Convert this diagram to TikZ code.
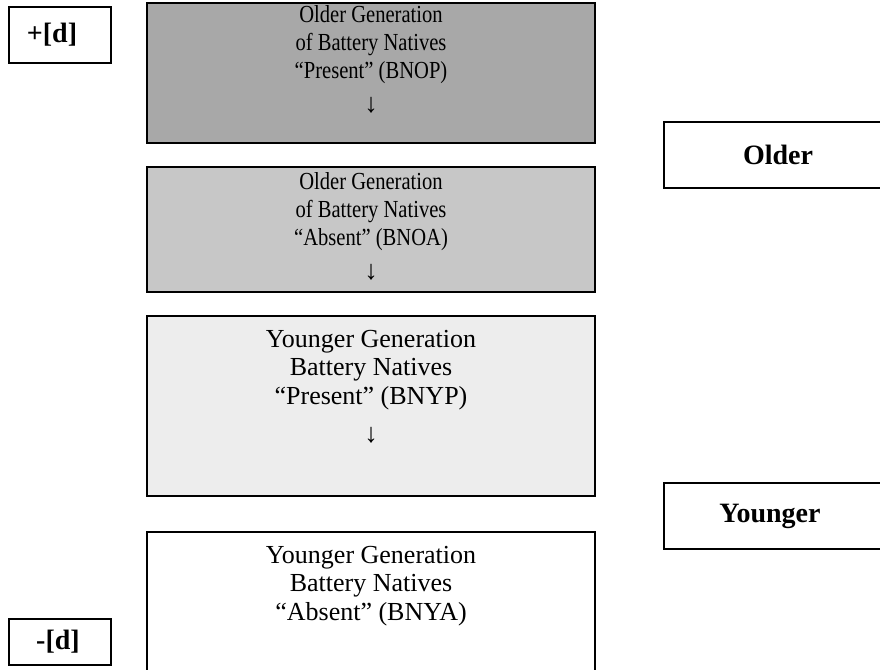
\documentclass[tikz,border=0pt]{standalone}
\usepackage{fontspec}
\setmainfont{Liberation Serif}
\newfontfamily\narrowserif[FakeStretch=0.84]{Liberation Serif}
\definecolor{gA}{gray}{0.66}
\definecolor{gB}{gray}{0.78}
\definecolor{gC}{gray}{0.93}
\begin{document}
\begin{tikzpicture}[x=1pt,y=-1pt,
  box/.style={draw=black, line width=1.8pt, inner sep=0pt, rectangle},
  bigtxt/.style={font=\fontsize{26}{28.5}\selectfont, align=center, inner sep=0pt},
  narrowtxt/.style={font=\narrowserif\fontsize{24.5}{28}\selectfont, align=center, inner sep=0pt},
  arrowtxt/.style={font=\fontsize{27}{28}\selectfont, inner sep=0pt},
  lbl/.style={font=\bfseries\fontsize{28}{30}\selectfont, inner sep=0pt}]
\useasboundingbox (0,0) rectangle (880,669);
\clip (0,0) rectangle (880,669);
\fill[white] (0,0) rectangle (880,669);
% main boxes
\node[box, fill=gA, minimum width=448pt, minimum height=140pt] (b1) at (371,73) {};
\node[box, fill=gB, minimum width=448pt, minimum height=125pt] (b2) at (371,229.5) {};
\node[box, fill=gC, minimum width=448pt, minimum height=180pt] (b3) at (371,406) {};
\node[box, fill=white, minimum width=448pt, minimum height=148pt] (b4) at (371,606) {};
% texts
\node[narrowtxt, anchor=north] (t1) at (371,5) {Older Generation\\of Battery Natives\\“Present” (BNOP)};
\node[arrowtxt] (a1) at (371,105) {↓};
\node[narrowtxt, anchor=north] (t2) at (371,172) {Older Generation\\of Battery Natives\\“Absent” (BNOA)};
\node[arrowtxt] (a2) at (371,272) {↓};
\node[bigtxt, anchor=north] (t3) at (371,330) {Younger Generation\\Battery Natives\\“Present” (BNYP)};
\node[arrowtxt] (a3) at (371,435) {↓};
\node[bigtxt, anchor=north] (t4) at (371,546) {Younger Generation\\Battery Natives\\“Absent” (BNYA)};
% side labels
\node[box, minimum width=102pt, minimum height=56pt] (pd) at (60,35) {};
\node[lbl] (pdt) at (52,35) {+[d]};
\node[box, minimum width=102pt, minimum height=46pt] (md) at (60,642) {};
\node[lbl] (mdt) at (58,642) {-[d]};
\node[box, minimum width=222pt, minimum height=66pt] (old) at (775,155) {};
\node[lbl] (oldt) at (778,155) {Older};
\node[box, minimum width=222pt, minimum height=66pt] (yng) at (775,516) {};
\node[lbl] (yngt) at (770,516) {Younger};
\end{tikzpicture}
\end{document}
